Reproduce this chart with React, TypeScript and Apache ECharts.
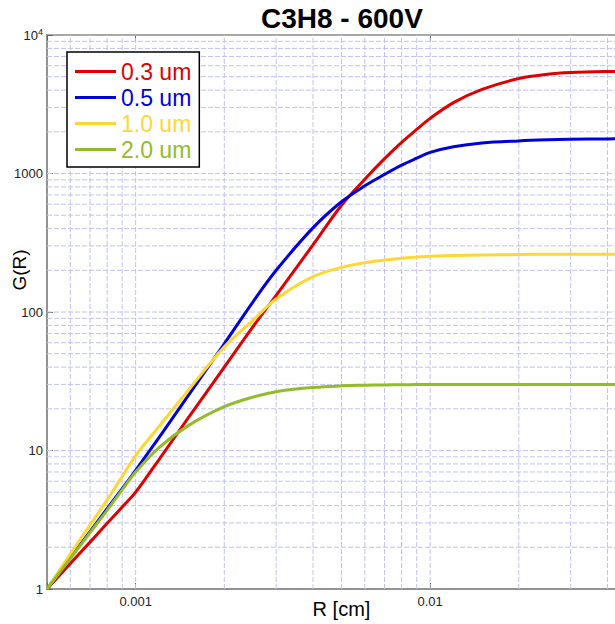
import React, { useEffect, useRef } from "react";
import * as echarts from "echarts";

// Radius values (cm) at which the gain curves are sampled
const radiusCm = [
  0.0005, 0.0006, 0.0007, 0.0008, 0.0009, 0.001, 0.0012, 0.0015, 0.002, 0.0025,
  0.003, 0.004, 0.005, 0.006, 0.007, 0.008, 0.009, 0.01, 0.012, 0.015, 0.02,
  0.025, 0.03, 0.04, 0.05,
];

// Gain G(R) for each wire diameter
const gain03um = [
  1, 1.53, 2.18, 2.98, 3.91, 5, 8.6, 16.9, 40, 78, 132, 305, 590, 910, 1280,
  1680, 2080, 2500, 3250, 4050, 4850, 5200, 5350, 5450, 5480,
];
const gain05um = [
  1, 1.68, 2.6, 3.8, 5.3, 7.2, 12.4, 24.5, 59, 118, 200, 405, 625, 815, 985,
  1150, 1290, 1420, 1560, 1660, 1720, 1750, 1765, 1778, 1782,
];
const gain10um = [
  1, 1.79, 2.9, 4.4, 6.5, 9.2, 14.9, 26.8, 56, 87, 124, 180, 210, 227, 237,
  244, 249, 253, 256, 258, 260, 261, 261, 261, 261,
];
const gain20um = [
  1, 1.66, 2.55, 3.7, 5.2, 7.0, 10.5, 15.0, 20.7, 24.3, 26.6, 28.5, 29.3, 29.6,
  29.75, 29.85, 29.9, 29.9, 29.95, 30, 30, 30, 30, 30, 30,
];

const seriesNames = ["0.3 um", "0.5 um", "1.0 um", "2.0 um"];
const seriesValues = [gain03um, gain05um, gain10um, gain20um];
const seriesColors = ["#e00000", "#0000dd", "#fdd835", "#92bc2a"];

// Decade tick labels
const xTickLabels: Record<string, string> = { "-3": "0.001", "-2": "0.01" };
const yTickLabels: Record<string, string> = {
  "0": "1",
  "1": "10",
  "2": "100",
  "3": "1000",
  "4": "{b|10}{s|4}",
};

const X_MIN = 0.0005;
const X_MAX = 0.05;
const Y_MIN = 1;
const Y_MAX = 10000;

const FONT = '"Liberation Sans", Arial, Helvetica, sans-serif';
const GRID_COLOR = "#c2c2f2";

function decadeLabel(table: Record<string, string>, v: number): string {
  const e = Math.log10(v);
  const r = Math.round(e);
  if (Math.abs(e - r) > 1e-6) return "";
  return table[String(r)] ?? "";
}

// Log-grid positions: 1..9 times each decade, inside the axis range
function logGrid(min: number, max: number): number[] {
  const out: number[] = [];
  for (let e = Math.floor(Math.log10(min)); e <= Math.ceil(Math.log10(max)); e++) {
    for (let k = 1; k <= 9; k++) {
      const v = parseFloat((k * Math.pow(10, e)).toPrecision(6));
      if (v > min * 1.0001 && v < max * 0.9999) out.push(v);
    }
  }
  return out;
}

export default function App() {
  const ref = useRef<HTMLDivElement>(null);

  useEffect(() => {
    if (!ref.current) return;
    const chart = echarts.init(ref.current, undefined, { renderer: "svg" });

    const gridStyle = { stroke: GRID_COLOR, lineWidth: 1, lineDash: [5, 2] };

    const option: any = {
      animation: false,
      backgroundColor: "#ffffff",
      textStyle: { fontFamily: FONT },
      title: {
        text: "C3H8 - 600V",
        left: 261,
        top: 4,
        padding: 0,
        textStyle: { fontSize: 28, fontWeight: "bold", color: "#000", fontFamily: FONT },
      },
      legend: {
        orient: "vertical",
        left: 67,
        top: 52,
        padding: [8, 8, 6, 8],
        itemGap: 3,
        itemWidth: 41,
        itemHeight: 3,
        icon: "rect",
        borderColor: "#000",
        borderWidth: 1.5,
        backgroundColor: "#fff",
        textStyle: { fontSize: 23, fontFamily: FONT },
        data: seriesNames.map((n, i) => ({ name: n, textStyle: { color: seriesColors[i] } })),
      },
      grid: {
        left: 47,
        top: 35,
        width: 589,
        height: 554,
        containLabel: false,
        outerBoundsMode: "none",
        show: true,
        borderColor: "#8c8c8c",
        borderWidth: 1.5,
      },
      xAxis: [
        {
          type: "log",
          logBase: 10,
          min: X_MIN,
          max: X_MAX,
          position: "bottom",
          name: "R [cm]",
          nameLocation: "middle",
          nameGap: 10,
          nameMoveOverlap: false,
          nameTextStyle: { fontSize: 20, color: "#000", fontFamily: FONT },
          axisLine: { show: true, lineStyle: { color: "#8c8c8c", width: 1.5 } },
          axisTick: { show: true, inside: true, length: 6, lineStyle: { color: "#666" } },
          axisLabel: {
            fontSize: 13,
            color: "#222",
            margin: 6,
            fontFamily: FONT,
            formatter: (v: number) => decadeLabel(xTickLabels, v),
          },
          splitLine: { show: false },
        },
        {
          type: "log",
          logBase: 10,
          min: X_MIN,
          max: X_MAX,
          position: "top",
          axisLine: { show: false },
          axisTick: { show: true, inside: true, length: 6, lineStyle: { color: "#666" } },
          axisLabel: { show: false },
          splitLine: { show: false },
        },
      ],
      yAxis: {
        type: "log",
        logBase: 10,
        min: Y_MIN,
        max: Y_MAX,
        axisLine: { show: true, lineStyle: { color: "#8c8c8c", width: 1.5 } },
        axisTick: { show: true, inside: true, length: 6, lineStyle: { color: "#666" } },
        axisLabel: {
          fontSize: 13,
          color: "#222",
          margin: 4,
          fontFamily: FONT,
          formatter: (v: number) => decadeLabel(yTickLabels, v),
          rich: {
            b: { fontSize: 13, color: "#222", fontFamily: FONT },
            s: { fontSize: 9, color: "#222", fontFamily: FONT, verticalAlign: "top", padding: [0, 0, 6, 0] },
          },
        },
        splitLine: { show: false },
      },
      graphic: [
        {
          type: "text",
          x: 19.5,
          y: 270,
          rotation: Math.PI / 2,
          style: {
            text: "G(R)",
            fontSize: 19,
            fontFamily: FONT,
            fill: "#000",
            align: "center",
            verticalAlign: "middle",
            textAlign: "center",
            textVerticalAlign: "middle",
          },
        },
      ],
      series: [
        // vertical log grid lines
        {
          type: "custom",
          silent: true,
          z: 1,
          data: logGrid(X_MIN, X_MAX).map((v) => [v, Y_MIN]),
          renderItem: (_p: any, api: any) => {
            const x = api.value(0);
            const a = api.coord([x, Y_MIN]);
            const b = api.coord([x, Y_MAX]);
            return {
              type: "line",
              shape: { x1: a[0], y1: a[1], x2: b[0], y2: b[1] },
              style: gridStyle,
            };
          },
        },
        // horizontal log grid lines
        {
          type: "custom",
          silent: true,
          z: 1,
          data: logGrid(Y_MIN, Y_MAX).map((v) => [X_MIN, v]),
          renderItem: (_p: any, api: any) => {
            const y = api.value(1);
            const a = api.coord([X_MIN, y]);
            const b = api.coord([X_MAX, y]);
            return {
              type: "line",
              shape: { x1: a[0], y1: a[1], x2: b[0], y2: b[1] },
              style: gridStyle,
            };
          },
        },
        ...seriesNames.map((name, i) => ({
          type: "line",
          name,
          z: 3 + i,
          showSymbol: false,
          symbol: "none",
          smooth: 0.35,
          color: seriesColors[i],
          lineStyle: { width: 3, color: seriesColors[i] },
          data: radiusCm.map((r, j) => [r, seriesValues[i][j]]),
        })),
      ],
    };

    chart.setOption(option);
    return () => chart.dispose();
  }, []);

  return (
    <div
      ref={ref}
      style={{ position: "fixed", left: 0, top: 0, width: 615, height: 624, background: "#fff" }}
    />
  );
}
